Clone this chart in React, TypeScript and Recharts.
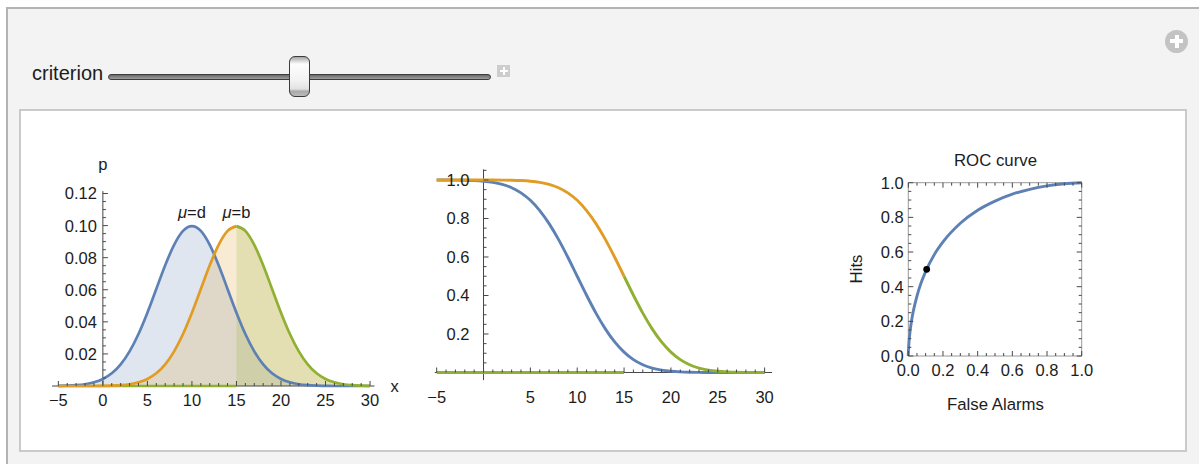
import React from "react";
import { ComposedChart, Line, Area, XAxis, YAxis, ReferenceLine, ReferenceDot } from "recharts";

const BLUE = "#5e81b5";
const ORANGE = "#e19c24";
const GREEN = "#8fb032";
const AXIS = "#474747";
const FONT = "'Liberation Sans', Arial, sans-serif";

const CRITERION = 15;

const xValues = [-5, -4, -3, -2, -1, 0, 1, 2, 3, 4, 5, 6, 7, 8, 9, 10, 11, 12, 13, 14, 15, 16, 17, 18, 19, 20, 21, 22, 23, 24, 25, 26, 27, 28, 29, 30];

// p(x) for the noise distribution (mu = d) and the signal distribution (mu = b)
const noiseDensity = [0.0001, 0.0002, 0.0005, 0.0011, 0.0023, 0.0044, 0.0079, 0.0135, 0.0216, 0.0324, 0.0457, 0.0605, 0.0753, 0.088, 0.0967, 0.0997, 0.0967, 0.088, 0.0753, 0.0605, 0.0457, 0.0324, 0.0216, 0.0135, 0.0079, 0.0044, 0.0023, 0.0011, 0.0005, 0.0002, 0.0001, 0, 0, 0, 0, 0];
const signalDensity = [0, 0, 0, 0, 0, 0.0001, 0.0002, 0.0005, 0.0011, 0.0023, 0.0044, 0.0079, 0.0135, 0.0216, 0.0324, 0.0457, 0.0605, 0.0753, 0.088, 0.0967, 0.0997, 0.0967, 0.088, 0.0753, 0.0605, 0.0457, 0.0324, 0.0216, 0.0135, 0.0079, 0.0044, 0.0023, 0.0011, 0.0005, 0.0002, 0.0001];

// area right of the criterion (middle panel)
const noiseTail = [0.9999, 0.9998, 0.9994, 0.9987, 0.997, 0.9938, 0.9878, 0.9772, 0.9599, 0.9332, 0.8944, 0.8413, 0.7734, 0.6915, 0.5987, 0.5, 0.4013, 0.3085, 0.2266, 0.1587, 0.1056, 0.0668, 0.0401, 0.0228, 0.0122, 0.0062, 0.003, 0.0013, 0.0006, 0.0002, 0.0001, 0, 0, 0, 0, 0];
const signalTail = [1, 1, 1, 1, 1, 0.9999, 0.9998, 0.9994, 0.9987, 0.997, 0.9938, 0.9878, 0.9772, 0.9599, 0.9332, 0.8944, 0.8413, 0.7734, 0.6915, 0.5987, 0.5, 0.4013, 0.3085, 0.2266, 0.1587, 0.1056, 0.0668, 0.0401, 0.0228, 0.0122, 0.0062, 0.003, 0.0013, 0.0006, 0.0002, 0.0001];

// ROC curve
const rocFalseAlarms = [0, 0.0002, 0.001, 0.005, 0.01, 0.02, 0.03, 0.05, 0.075, 0.1, 0.15, 0.2, 0.3, 0.4, 0.5, 0.6, 0.7, 0.8, 0.9, 1];
const rocHits = [0, 0.011, 0.033, 0.092, 0.141, 0.211, 0.264, 0.346, 0.425, 0.487, 0.585, 0.658, 0.766, 0.841, 0.894, 0.934, 0.962, 0.982, 0.994, 1];
const pointFalseAlarm = [0.106];
const pointHit = [0.5];

// tick labels
const densityXTicks = [-5, 0, 5, 10, 15, 20, 25, 30];
const densityYTicks = [0.02, 0.04, 0.06, 0.08, 0.1, 0.12];
const tailXTicks = [-5, 5, 10, 15, 20, 25, 30];
const tailYTicks = [0.2, 0.4, 0.6, 0.8, 1.0];
const rocTicks = [0, 0.2, 0.4, 0.6, 0.8, 1.0];

const densityRows = xValues.map((x, i) => ({
  x,
  blue: noiseDensity[i],
  orangeFill: signalDensity[i],
  orange: x <= CRITERION ? signalDensity[i] : null,
  green: x >= CRITERION ? signalDensity[i] : null,
  greenZero: x <= CRITERION ? 0 : null,
}));

const tailRows = xValues.map((x, i) => ({
  x,
  blue: noiseTail[i],
  orange: x <= CRITERION ? signalTail[i] : null,
  green: x >= CRITERION ? signalTail[i] : null,
  greenZero: x <= CRITERION ? 0 : null,
}));

const rocRows = rocFalseAlarms.map((x, i) => ({ x, y: rocHits[i] }));

const fmt = (v: number, d: number) => (v < 0 ? "\u2212" + Math.abs(v).toFixed(d) : v.toFixed(d));
const isMajor = (v: number, step: number) => Math.abs(v / step - Math.round(v / step)) < 1e-6;
const steps = (from: number, to: number, step: number) => {
  const out: number[] = [];
  for (let k = Math.round(from / step); k <= Math.round(to / step); k++) out.push(+(k * step).toFixed(4));
  return out;
};

const textStyle: any = { fontFamily: FONT, fontSize: 16.5, fill: "#1c1c1c" };

type Dir = "up" | "down" | "left" | "right";
// tick mark (plus optional label) drawn at a data point
const mark = (dir: Dir, len: number, label?: string, lx = 0, ly = 0, anchor = "middle", color = AXIS) => (p: any) => {
  const { cx, cy } = p;
  const dx = dir === "right" ? len : dir === "left" ? -len : 0;
  const dy = dir === "up" ? -len : dir === "down" ? len : 0;
  return (
    <g>
      {len > 0 ? <line x1={cx} y1={cy} x2={cx + dx} y2={cy + dy} stroke={color} strokeWidth={1} /> : null}
      {label ? (
        <text x={cx + lx} y={cy + ly} textAnchor={anchor} style={textStyle}>
          {label}
        </text>
      ) : null}
    </g>
  );
};

function DensityChart() {
  const peakD = noiseDensity[xValues.indexOf(10)];
  const peakB = signalDensity[xValues.indexOf(CRITERION)];
  return (
    <ComposedChart width={370} height={265} data={densityRows} margin={{ top: 35.5, right: 35.5, bottom: 29, left: 12.1 }}>
      <XAxis type="number" dataKey="x" domain={[-5.7, 30.5]} hide />
      <YAxis type="number" domain={[0, 0.125]} hide />
      <Area dataKey="blue" type="monotone" stroke="none" fill={BLUE} fillOpacity={0.2} isAnimationActive={false} />
      <Area dataKey="orangeFill" type="monotone" stroke="none" fill={ORANGE} fillOpacity={0.2} isAnimationActive={false} />
      <Area dataKey="green" type="monotone" stroke="none" fill={GREEN} fillOpacity={0.2} isAnimationActive={false} />
      <ReferenceLine segment={[{ x: -5.7, y: 0 }, { x: 30.5, y: 0 }]} stroke={AXIS} ifOverflow="visible" />
      <ReferenceLine segment={[{ x: 0, y: 0 }, { x: 0, y: 0.1215 }]} stroke={AXIS} ifOverflow="visible" />
      <Line dataKey="greenZero" type="linear" stroke={GREEN} strokeWidth={2.7} dot={false} isAnimationActive={false} />
      <Line dataKey="blue" type="monotone" stroke={BLUE} strokeWidth={2.7} dot={false} isAnimationActive={false} />
      <Line dataKey="orange" type="monotone" stroke={ORANGE} strokeWidth={2.7} dot={false} isAnimationActive={false} />
      <Line dataKey="green" type="monotone" stroke={GREEN} strokeWidth={2.7} dot={false} isAnimationActive={false} />
      {xValues.map((v) => (
        <ReferenceDot key={"dx" + v} x={v} y={0} r={0} ifOverflow="visible"
          shape={mark("up", isMajor(v, 5) ? 5 : 3, densityXTicks.includes(v) ? fmt(v, 0) : undefined, 0, 19.6)} />
      ))}
      {steps(0.005, 0.12, 0.005).map((v) => (
        <ReferenceDot key={"dy" + v} x={0} y={v} r={0} ifOverflow="visible"
          shape={mark("right", isMajor(v, 0.02) ? 5 : 3, densityYTicks.some((t) => Math.abs(t - v) < 1e-6) ? fmt(v, 2) : undefined, -6, 5.9, "end")} />
      ))}
      <ReferenceDot x={0} y={0.1215} r={0} ifOverflow="visible" shape={mark("up", 0, "p", 0, -21)} />
      <ReferenceDot x={30.5} y={0} r={0} ifOverflow="visible" shape={mark("up", 0, "x", 16, 6, "start")} />
      <ReferenceDot x={10} y={peakD} r={0} ifOverflow="visible"
        shape={(p: any) => (
          <text x={p.cx} y={p.cy - 8} textAnchor="middle" style={textStyle}>
            <tspan fontStyle="italic">μ</tspan>=d
          </text>
        )} />
      <ReferenceDot x={CRITERION} y={peakB} r={0} ifOverflow="visible"
        shape={(p: any) => (
          <text x={p.cx} y={p.cy - 8} textAnchor="middle" style={textStyle}>
            <tspan fontStyle="italic">μ</tspan>=b
          </text>
        )} />
    </ComposedChart>
  );
}

function TailChart() {
  return (
    <ComposedChart width={375} height={265} data={tailRows} margin={{ top: 19.4, right: 17.9, bottom: 34.8, left: 19.8 }}>
      <XAxis type="number" dataKey="x" domain={[-5.2, 30.8]} hide />
      <YAxis type="number" domain={[-0.04, 1.055]} hide />
      <ReferenceLine segment={[{ x: -5.2, y: 0 }, { x: 30.8, y: 0 }]} stroke={AXIS} ifOverflow="visible" />
      <ReferenceLine segment={[{ x: 0, y: -0.04 }, { x: 0, y: 1.055 }]} stroke={AXIS} ifOverflow="visible" />
      <Line dataKey="greenZero" type="linear" stroke={GREEN} strokeWidth={2.9} dot={false} isAnimationActive={false} />
      <Line dataKey="blue" type="monotone" stroke={BLUE} strokeWidth={2.9} dot={false} isAnimationActive={false} />
      <Line dataKey="orange" type="monotone" stroke={ORANGE} strokeWidth={2.9} dot={false} isAnimationActive={false} />
      <Line dataKey="green" type="monotone" stroke={GREEN} strokeWidth={2.9} dot={false} isAnimationActive={false} />
      {xValues.map((v) => (
        <ReferenceDot key={"tx" + v} x={v} y={0} r={0} ifOverflow="visible"
          shape={mark("up", isMajor(v, 5) ? 5 : 3, tailXTicks.includes(v) ? fmt(v, 0) : undefined, 0, 31)} />
      ))}
      {steps(0.05, 1.05, 0.05).map((v) => (
        <ReferenceDot key={"ty" + v} x={0} y={v} r={0} ifOverflow="visible"
          shape={mark("right", isMajor(v, 0.2) ? 5 : 3, tailYTicks.some((t) => Math.abs(t - v) < 1e-6) ? fmt(v, 1) : undefined, -14, 5.9, "end")} />
      ))}
    </ComposedChart>
  );
}

function RocChart() {
  const minor = steps(0, 1, 0.05);
  const label = (v: number) => (rocTicks.some((t) => Math.abs(t - v) < 1e-6) ? fmt(v, 1) : undefined);
  return (
    <ComposedChart width={280} height={280} data={rocRows} margin={{ top: 42.7, right: 28.3, bottom: 64, left: 78.3 }}>
      <XAxis type="number" dataKey="x" domain={[0, 1]} hide />
      <YAxis type="number" domain={[0, 1]} hide />
      <ReferenceLine segment={[{ x: 0, y: 0 }, { x: 1, y: 0 }]} stroke="#9a9a9a" ifOverflow="visible" />
      <ReferenceLine segment={[{ x: 0, y: 1 }, { x: 1, y: 1 }]} stroke="#9a9a9a" ifOverflow="visible" />
      <ReferenceLine segment={[{ x: 0, y: 0 }, { x: 0, y: 1 }]} stroke="#9a9a9a" ifOverflow="visible" />
      <ReferenceLine segment={[{ x: 1, y: 0 }, { x: 1, y: 1 }]} stroke="#9a9a9a" ifOverflow="visible" />
      {minor.map((v) => (
        <ReferenceDot key={"rb" + v} x={v} y={0} r={0} ifOverflow="visible"
          shape={mark("up", isMajor(v, 0.2) ? 5 : 3, label(v), 0, 19.7)} />
      ))}
      {minor.map((v) => (
        <ReferenceDot key={"rt" + v} x={v} y={1} r={0} ifOverflow="visible" shape={mark("down", isMajor(v, 0.2) ? 5 : 3)} />
      ))}
      {minor.map((v) => (
        <ReferenceDot key={"rl" + v} x={0} y={v} r={0} ifOverflow="visible"
          shape={mark("right", isMajor(v, 0.2) ? 5 : 3, label(v), -4.5, 5.9, "end")} />
      ))}
      {minor.map((v) => (
        <ReferenceDot key={"rr" + v} x={1} y={v} r={0} ifOverflow="visible" shape={mark("left", isMajor(v, 0.2) ? 5 : 3)} />
      ))}
      <Line dataKey="y" type="monotone" stroke={BLUE} strokeWidth={2.9} dot={false} isAnimationActive={false} />
      <ReferenceDot x={pointFalseAlarm[0]} y={pointHit[0]} r={3.4} fill="#000" stroke="none" ifOverflow="visible" />
    </ComposedChart>
  );
}

const abs = (left: number, top: number, extra: any = {}) => ({ position: "absolute" as const, left, top, ...extra });
const centered = (left: number, top: number, extra: any = {}) =>
  abs(left, top, { transform: "translate(-50%, -50%)", whiteSpace: "nowrap", ...extra });
const labelText = { fontFamily: FONT, fontSize: 16.8, color: "#1c1c1c" };

export default function App() {
  return (
    <div style={abs(0, 0, { width: 1199, height: 464, overflow: "hidden", background: "#fff" })}>
      {/* Manipulate frame */}
      <div style={abs(6, 7, { width: 1220, height: 480, boxSizing: "border-box", border: "2px solid #b3b3b3", background: "#f3f3f3" })} />

      {/* criterion slider */}
      <div style={abs(32, 61, { fontFamily: FONT, fontSize: 20, color: "#1c1c1c", lineHeight: "24px" })}>criterion</div>
      <div style={abs(108, 73.5, { width: 383, height: 6, boxSizing: "border-box", borderRadius: 3, border: "1px solid #3c3c3c", background: "linear-gradient(#6a6a6a, #9d9d9d)" })} />
      <div style={abs(289, 56, { width: 21, height: 41, boxSizing: "border-box", borderRadius: 6, border: "1.2px solid #3a3a3a",
        background: "linear-gradient(to bottom, #a6a6a6 0%, #d6d6d6 10%, #fdfdfd 18%, #f2f2f2 60%, #e2e2e2 82%, #a9a9a9 88%, #bcbcbc 100%)" })} />
      <div style={abs(497, 65, { width: 13, height: 12, background: "#cdcdcd" })}>
        <div style={abs(2.5, 5, { width: 8, height: 2, background: "#fff" })} />
        <div style={abs(5.5, 2, { width: 2, height: 8, background: "#fff" })} />
      </div>
      <div style={abs(1165, 29.5, { width: 23, height: 23, borderRadius: "50%", background: "#c3c3c3" })}>
        <div style={abs(5, 9.5, { width: 13, height: 4, background: "#fff" })} />
        <div style={abs(9.5, 5, { width: 4, height: 13, background: "#fff" })} />
      </div>

      {/* output pane */}
      <div style={abs(19, 109, { width: 1168, height: 343, boxSizing: "border-box", border: "2px solid #cacaca", background: "#fff" })} />

      <div style={abs(40, 150)}>
        <DensityChart />
      </div>
      <div style={abs(415, 150)}>
        <TailChart />
      </div>
      <div style={abs(830, 140)}>
        <RocChart />
      </div>

      <div style={centered(995.5, 161, labelText)}>ROC curve</div>
      <div style={centered(995.5, 405, labelText)}>False Alarms</div>
      <div style={centered(856.7, 269.3, { ...labelText, transform: "translate(-50%, -50%) rotate(-90deg)" })}>Hits</div>
    </div>
  );
}
